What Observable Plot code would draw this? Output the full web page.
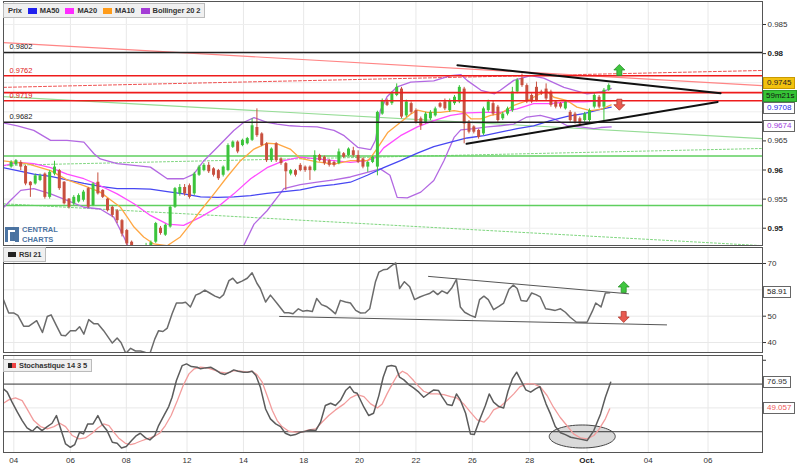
<!DOCTYPE html>
<html><head><meta charset="utf-8">
<script src="https://cdn.jsdelivr.net/npm/d3@7"></script>
<script src="https://cdn.jsdelivr.net/npm/@observablehq/plot@0.6"></script>
<style>
body{margin:0;background:#fff;font-family:"Liberation Sans",Arial,sans-serif;}
#wrap{position:relative;width:806px;height:467px;overflow:hidden;background:#fff;}
.box{position:absolute;box-sizing:border-box;font-size:8px;white-space:nowrap;}
.tab{position:absolute;box-sizing:border-box;background:#f0f0f0;border:1px solid #bbb;font-size:7.5px;font-weight:bold;color:#333;display:flex;align-items:center;padding:0 4px;white-space:nowrap;letter-spacing:-0.1px;}
.sw{display:inline-block;width:8px;height:5px;margin-right:3px;flex:none;}
</style></head><body><div id="wrap"></div><script>
// ---------- DATA ----------
const xTickPos = [0.56,12.3,23.9,36.5,48.2,60.7,72.3,84.0,95.7,107.6,119.5,132.2,144.6];
const xTickLabels = ["04","06","08","12","14","18","20","22","26","28","Oct.","04","06"];
const priceTicksNormal = [0.955,0.965,0.985];
const priceTicksBold = [0.95,0.96,0.98];
const priceTicksHidden = [0.97,0.975];
const rsiTicks = [40,50,70];
const rsiTicksHidden = [60];
// candles [open, close, high, low], 4-hour bars
const candles = [
[.9605,.9613,.9616,.9603],[.9609,.9616,.9618,.9607],[.9613,.9605,.9616,.9599],[.9606,.9576,.9608,.9573],
[.9579,.9573,.9580,.9553],[.9576,.9590,.9593,.9574],[.9582,.9590,.9593,.9580],[.9593,.9553,.9595,.9550],
[.9553,.9596,.9599,.9550],[.9593,.9605,.9615,.9590],[.9599,.9568,.9601,.9565],[.9579,.9542,.9580,.9540],
[.9550,.9536,.9551,.9533],[.9542,.9553,.9556,.9539],[.9545,.9556,.9559,.9543],[.9548,.9562,.9565,.9545],
[.9568,.9536,.9570,.9534],[.9539,.9576,.9578,.9537],[.9579,.9559,.9595,.9557],[.9565,.9553,.9566,.9551],
[.9550,.9530,.9551,.9528],[.9536,.9522,.9538,.9518],[.9530,.9513,.9532,.9508],[.9513,.9490,.9515,.9485],
[.9496,.9473,.9498,.9468],[.9476,.9459,.9478,.9452],[.9459,.9466,.9470,.9454],[.9465,.9459,.9468,.9455],
[.9461,.9470,.9474,.9457],[.9468,.9475,.9478,.9465],[.9476,.9508,.9510,.9474],[.9500,.9491,.9503,.9488],
[.9488,.9505,.9507,.9486],[.9502,.9536,.9538,.9500],[.9536,.9568,.9570,.9534],[.9559,.9570,.9575,.9555],
[.9570,.9559,.9575,.9555],[.9573,.9553,.9576,.9550],[.9559,.9593,.9596,.9556],[.9591,.9605,.9608,.9589],
[.9599,.9608,.9611,.9597],[.9608,.9597,.9613,.9594],[.9602,.9591,.9604,.9588],[.9599,.9585,.9601,.9582],
[.9591,.9605,.9607,.9588],[.9599,.9642,.9645,.9597],[.9639,.9648,.9650,.9637],[.9648,.9631,.9650,.9628],
[.9642,.9651,.9653,.9640],[.9645,.9654,.9656,.9643],[.9651,.9676,.9688,.9649],[.9673,.9659,.9705,.9656],
[.9662,.9642,.9664,.9640],[.9645,.9616,.9647,.9613],[.9616,.9636,.9638,.9613],[.9645,.9616,.9647,.9613],
[.9619,.9611,.9621,.9608],[.9611,.9597,.9613,.9565],[.9593,.9599,.9601,.9590],[.9599,.9591,.9601,.9588],
[.9608,.9599,.9611,.9597],[.9605,.9599,.9607,.9596],[.9605,.9599,.9607,.9582],[.9599,.9625,.9633,.9597],
[.9625,.9616,.9627,.9614],[.9622,.9611,.9624,.9608],[.9616,.9608,.9618,.9605],[.9613,.9608,.9615,.9605],
[.9611,.9631,.9636,.9609],[.9628,.9622,.9630,.9620],[.9625,.9636,.9638,.9623],[.9633,.9625,.9639,.9622],
[.9625,.9613,.9633,.9611],[.9619,.9605,.9621,.9602],[.9605,.9613,.9615,.9596],[.9613,.9622,.9624,.9611],
[.9605,.9699,.9701,.9590],[.9696,.9719,.9722,.9694],[.9717,.9711,.9722,.9709],[.9714,.9731,.9734,.9711],
[.9728,.9742,.9748,.9726],[.9739,.9691,.9742,.9688],[.9693,.9717,.9720,.9690],[.9714,.9699,.9717,.9696],
[.9702,.9682,.9705,.9679],[.9688,.9676,.9691,.9668],[.9682,.9696,.9699,.9679],[.9688,.9699,.9702,.9685],
[.9693,.9705,.9708,.9691],[.9714,.9708,.9716,.9706],[.9717,.9705,.9722,.9702],[.9702,.9719,.9722,.9699],
[.9714,.9725,.9728,.9711],[.9717,.9742,.9745,.9714],[.9739,.9679,.9742,.9645],[.9682,.9665,.9685,.9662],
[.9674,.9665,.9676,.9662],[.9668,.9656,.9670,.9653],[.9662,.9705,.9708,.9659],[.9702,.9717,.9720,.9699],
[.9714,.9696,.9719,.9693],[.9708,.9685,.9711,.9682],[.9688,.9696,.9699,.9685],[.9696,.9705,.9708,.9693],
[.9702,.9734,.9742,.9699],[.9734,.9754,.9757,.9731],[.9757,.9745,.9765,.9742],[.9745,.9717,.9748,.9714],
[.9728,.9717,.9731,.9714],[.9742,.9719,.9751,.9717],[.9734,.9731,.9737,.9728],[.9739,.9722,.9748,.9719],
[.9734,.9711,.9737,.9708],[.9717,.9708,.9719,.9705],[.9714,.9708,.9716,.9705],[.9705,.9717,.9719,.9703],
[.9699,.9685,.9702,.9682],[.9696,.9682,.9699,.9679],[.9688,.9679,.9691,.9676],[.9685,.9696,.9699,.9682],
[.9685,.9702,.9705,.9682],[.9708,.9728,.9731,.9705],[.9725,.9708,.9728,.9705],[.9708,.9737,.9740,.9685],
[.9737,.9745,.9748,.9735]
];
// indicator lines: [bar index, value]
const ma50 = [[-2.2,.9605],[1.3,.9599],[4.7,.9593],[8.2,.9589],[11.6,.9583],[15.1,.9577],[18.5,.9572],[22,.9568],[25.5,.9568],[28.9,.9567],[32.4,.9563],[35.8,.9559],[39.3,.9554],[42.8,.9553],[46.2,.9554],[49.7,.9556],[53.1,.9560],[56.6,.9563],[60,.9566],[63.5,.9572],[67,.9575],[70.4,.9579],[73.9,.9591],[77.3,.9604],[80.8,.9616],[84.3,.9629],[87.7,.9640],[91.2,.9648],[94.6,.9655],[98.1,.9659],[101.5,.9665],[105,.9671],[108.4,.9676],[111.9,.9685],[115.4,.9692],[118.8,.9697],[122.3,.9704],[124.5,.9708]];
const ma20 = [[-2.2,.9606],[1.3,.9613],[4.7,.9611],[8.2,.9604],[11.6,.9593],[15.1,.9585],[18.5,.9573],[22,.9559],[25.5,.9542],[28.9,.9522],[32.4,.9507],[35.8,.9505],[39.3,.9519],[42.8,.9536],[46.2,.9559],[49.7,.9585],[53.1,.9604],[56.6,.9616],[60,.9622],[63.5,.9619],[67,.9616],[70.4,.9613],[73.9,.9616],[75.8,.9622],[77.3,.9638],[80.8,.9659],[84.3,.9674],[87.7,.9685],[91.2,.9694],[94.6,.9698],[98.1,.9699],[101.5,.9699],[105,.9705],[108.4,.9714],[111.9,.9714],[115.4,.9717],[118.8,.9717],[122.3,.9719],[124.5,.9719]];
const ma10 = [[-2.2,.9616],[3.3,.9611],[8.2,.9599],[11.6,.9583],[15.1,.9573],[18.5,.9562],[20.6,.9549],[22.7,.9536],[24.1,.9519],[25.5,.9502],[27.5,.9485],[29.6,.9473],[32.4,.9470],[35.1,.9485],[37.2,.9507],[39.3,.9530],[42.1,.9559],[44.8,.9588],[47.6,.9616],[50.4,.9636],[53.1,.9646],[55.2,.9645],[57.9,.9636],[60,.9620],[63.5,.9614],[67,.9610],[70.4,.9616],[73.9,.9616],[74.7,.9622],[76.1,.9639],[78.2,.9665],[80.8,.9682],[82.9,.9696],[84.3,.9703],[86.4,.9699],[89.1,.9699],[91.9,.9702],[94,.9699],[95.4,.9688],[97.5,.9688],[99.5,.9694],[101.5,.9697],[104.3,.9711],[107,.9719],[109.8,.9731],[111.2,.9735],[112.6,.9725],[115.4,.9719],[117.4,.9708],[120.2,.9702],[122.3,.9704],[124.5,.9712]];
const bbUpper = [[-2.2,.9682],[1.3,.9676],[4.7,.9668],[8.2,.9651],[11.6,.9651],[15.1,.9648],[17.2,.9628],[18.5,.9619],[22,.9611],[25.5,.9608],[28.9,.9605],[32.4,.9585],[35.8,.9585],[37.9,.9593],[40,.9616],[42.8,.9639],[46.2,.9668],[48.3,.9682],[50.4,.9690],[53.1,.9682],[55.2,.9679],[57.9,.9676],[60,.9675],[63.5,.9674],[67,.9668],[69.1,.9659],[71.9,.9639],[74.6,.9635],[75.6,.9651],[76.6,.9702],[78,.9726],[80.1,.9743],[82.9,.9751],[87.7,.9753],[91.2,.9762],[93.3,.9764],[94.6,.9754],[97.5,.9737],[100.3,.9731],[101.5,.9737],[104.3,.9754],[107.8,.9762],[110.5,.9758],[114.7,.9742],[119.5,.9731],[122.3,.9734],[124.5,.9740]];
const bbLower = [[-2.2,.9530],[-0.1,.9548],[2,.9565],[4.7,.9568],[8.2,.9559],[11.6,.9548],[15.1,.9536],[18.5,.9533],[21.3,.9519],[23.4,.9485],[24.8,.9459],[26.5,.9430],[30,.9415],[36,.9415],[42,.9425],[46.2,.9450],[47.6,.9459],[50.4,.9507],[53.1,.9530],[56.6,.9568],[60,.9575],[63.5,.9579],[67,.9583],[70.4,.9588],[73.9,.9596],[76.6,.9602],[78.6,.9591],[80.1,.9553],[82.2,.9552],[85,.9562],[87.7,.9582],[89.8,.9616],[91.9,.9656],[93.3,.9669],[96.1,.9671],[98.8,.9674],[101.5,.9676],[104.3,.9679],[107,.9691],[109.8,.9694],[112.6,.9688],[115.4,.9676],[118.1,.9674],[120.9,.9671],[122.3,.9673],[124.5,.9674]];
// drawn levels and trend lines
const blackLevels = [0.9802, 0.9682];
const redLevels = [0.9762, 0.9733, 0.9719];
const greenLevels = [0.9624, 0.9539];
const labeledBlack = [0.9802, 0.9682];
const labeledRed = [0.9762, 0.9719];
const redTrend = [[-1.58,.9819],[155.9,.9745]];
const redDashTrend = [[-1.58,.9742],[155.9,.9771]];
const greenTrend = [[-1.58,.9726],[155.9,.9654]];
const greenDashUp = [[-1.58,.9608],[155.9,.9637]];
const greenDashDown = [[-1.58,.9542],[155.9,.9470]];
const triUpper = [[92.6,.9780],[147.2,.9732]];
const triLower = [[94.5,.9645],[146.6,.9717]];
const mainArrowUp = [[126.2,.9771]];
const mainArrowDown = [[126.2,.9713]];
// RSI 21
const rsi = [[-1.6,56.3],[-0.5,51.2],[0.6,51.2],[1.4,50.3],[2.6,46.2],[3.7,46.2],[5.3,48.3],[6.5,43.8],[7.5,49.9],[8.3,50.5],[9.4,46.4],[10.4,42.8],[11.3,42.6],[12.3,44.5],[13.4,44.5],[14.2,46.0],[15.1,43.2],[16.1,48.7],[17.2,47.1],[18.0,47.1],[19.2,44.5],[21.0,39.8],[22.0,41.7],[22.8,40.0],[23.8,35.9],[24.8,37.8],[25.8,36.8],[26.8,36.8],[27.9,36.2],[28.8,35.8],[29.8,41.3],[30.6,44.5],[31.5,44.2],[32.4,45.5],[33.4,50.9],[34.3,55.0],[35.5,55.0],[36.2,55.3],[37.2,53.5],[38.3,58.0],[39.1,58.6],[40.2,59.9],[41.2,58.8],[42.3,57.6],[43.3,56.9],[44.1,58.2],[45.2,63.5],[46.0,64.4],[46.9,62.5],[47.9,63.3],[49.0,64.4],[50.0,66.5],[51.0,62.5],[51.7,60.5],[52.8,55.4],[53.8,58.0],[55.2,54.8],[56.7,51.3],[57.6,51.3],[58.5,50.9],[59.6,52.8],[60.5,51.9],[61.4,52.2],[62.5,51.8],[63.4,56.7],[64.4,54.4],[65.4,53.7],[66.3,52.5],[67.3,50.9],[68.3,56.0],[69.4,55.4],[70.4,55.0],[71.5,52.2],[72.5,51.2],[73.5,51.3],[74.4,52.8],[75.6,63.1],[76.3,66.7],[77.2,67.6],[78.0,67.8],[78.9,69.1],[79.8,70.2],[80.6,60.5],[81.6,63.1],[82.7,61.2],[83.7,56.3],[84.8,57.3],[85.8,58.0],[86.8,58.6],[87.6,59.6],[88.5,58.2],[89.4,59.6],[90.5,58.6],[91.5,60.9],[92.4,64.0],[93.2,53.5],[94.1,51.5],[95.3,50.3],[96.3,49.6],[97.2,56.3],[98.1,57.6],[99.0,56.3],[100.1,52.5],[101.2,53.7],[102.2,55.0],[103.3,60.2],[104.2,61.8],[105.0,60.5],[105.8,56.0],[107.0,55.7],[108.0,58.8],[108.9,58.2],[109.8,57.3],[110.9,52.8],[111.9,52.5],[112.9,52.2],[114.0,52.8],[115.0,51.5],[116.0,49.6],[117.3,47.7],[118.5,47.7],[119.5,47.7],[120.6,51.9],[121.3,55.0],[122.4,53.5],[123.3,58.8],[124.2,58.9]];
const rsiUpperTrend = [[86.6,65.1],[128.1,58.5]];
const rsiLowerTrend = [[55.7,49.9],[136,46.7]];
const rsiArrowUp = [[127.1,60.9]];
const rsiArrowDown = [[127.1,49.9]];
// Stochastique 14 3 5
const stochK = [[-1.6,70.0],[-0.8,66.5],[0.2,56.0],[1.3,45.5],[2.3,36.7],[3.3,29.0],[4.4,25.5],[5.4,30.4],[6.4,26.2],[7.5,30.4],[8.5,33.9],[9.4,42.0],[10.4,26.2],[11.3,12.2],[12.3,8.7],[13.2,11.5],[14.2,24.5],[15.0,22.7],[15.9,33.2],[17.0,33.2],[18.0,42.0],[18.9,32.5],[19.9,26.2],[21.0,14.0],[22.0,12.9],[22.9,8.0],[23.9,9.4],[25.0,15.7],[26.0,21.0],[26.8,23.4],[27.9,18.5],[28.8,16.4],[29.8,21.0],[30.6,31.5],[31.7,42.0],[32.7,51.4],[33.4,61.2],[34.3,78.7],[35.5,94.4],[36.4,96.2],[37.4,93.4],[38.6,92.7],[39.3,91.0],[40.3,92.0],[41.4,92.7],[42.4,89.9],[43.4,86.4],[44.3,85.0],[45.4,87.5],[46.2,89.9],[47.1,88.5],[48.2,87.5],[49.1,87.5],[50.0,88.5],[50.8,84.0],[51.7,72.0],[52.8,48.9],[53.8,38.5],[54.9,33.2],[55.9,30.4],[56.9,23.4],[58.0,21.0],[59.0,22.0],[60.0,24.5],[61.1,25.5],[62.1,26.9],[63.2,26.2],[64.2,35.0],[65.2,52.5],[66.3,54.9],[67.3,52.5],[68.4,58.4],[69.4,68.2],[70.3,72.4],[71.1,66.5],[71.8,65.4],[73.2,50.7],[74.2,42.0],[75.2,44.4],[76.3,62.9],[77.2,82.2],[78.0,93.4],[78.9,94.4],[79.8,93.4],[80.6,82.2],[81.5,79.4],[82.5,74.5],[83.5,71.0],[84.6,66.5],[85.6,61.2],[86.7,65.4],[87.7,68.9],[88.7,68.2],[89.4,61.9],[90.5,53.5],[91.5,52.5],[92.4,64.7],[93.2,58.4],[94.3,44.4],[95.3,22.7],[96.1,22.0],[97.2,37.4],[98.4,52.5],[99.2,64.7],[100.1,56.0],[101.2,51.4],[102.2,50.0],[103.1,67.5],[104.0,80.4],[104.9,87.5],[105.8,78.7],[106.8,68.9],[107.8,66.5],[108.8,70.0],[109.7,72.4],[111.0,54.0],[111.9,43.7],[112.9,30.4],[114.0,24.0],[115.0,22.0],[116.1,19.2],[117.8,17.5],[119.5,15.7],[120.9,26.2],[122.3,43.7],[123.3,61.2],[124.4,76.95]];
const stochD = [[-1.6,54.9],[-0.5,58.4],[0.9,60.5],[2.3,57.7],[3.3,49.0],[4.7,36.7],[6.1,30.4],[7.5,28.0],[8.9,30.4],[10.1,33.9],[11.3,30.4],[12.7,21.0],[14.1,17.5],[15.4,18.5],[16.8,23.4],[18.0,29.0],[19.2,33.2],[20.3,31.5],[21.3,24.5],[22.3,18.5],[23.7,12.9],[24.8,11.5],[25.8,12.9],[26.8,15.0],[28.2,17.5],[29.6,19.9],[30.8,23.4],[32.0,31.5],[33.2,42.0],[34.5,57.7],[35.7,73.5],[36.9,85.7],[38.0,91.0],[39.3,92.7],[40.7,92.0],[42.0,89.9],[43.4,87.5],[44.8,86.4],[46.2,89.2],[47.6,88.5],[48.9,87.5],[50.0,88.5],[51.0,85.0],[52.1,77.0],[53.1,63.0],[54.2,47.2],[55.2,36.7],[56.2,30.4],[57.6,25.5],[59.0,24.5],[60.4,24.5],[61.7,26.9],[63.2,28.0],[64.5,35.0],[65.9,42.0],[67.3,47.9],[69.1,54.2],[70.4,60.5],[71.8,64.0],[73.2,61.9],[74.6,54.2],[76.0,50.0],[77.0,54.2],[78.0,64.7],[79.1,75.2],[80.1,84.0],[81.2,88.5],[82.2,85.7],[83.5,78.7],[84.6,72.4],[85.6,67.5],[87.0,64.7],[88.4,64.7],[89.8,64.0],[91.2,61.9],[92.5,60.5],[93.9,54.2],[95.3,45.5],[96.7,37.4],[98.1,35.0],[99.1,40.2],[100.1,47.9],[101.5,51.4],[102.9,57.7],[104.3,64.7],[105.6,72.4],[107.0,75.2],[108.4,75.2],[109.8,72.0],[111.2,63.0],[112.5,51.0],[113.9,40.2],[115.3,31.5],[116.7,22.7],[118.1,18.5],[119.5,17.5],[120.9,21.0],[121.9,26.9],[123.3,38.5],[124.2,49.057]];
const stochLevels = [75, 25];
const stochCircle = [[118.5, 20]];
// current values shown on the right
const lastClose = 0.9745, lastMA50 = 0.9708, lastBBLower = 0.9674;
const countdown = "59m21s";
const lastRSI = 58.91, lastK = 76.95, lastD = 49.057;

// ---------- DRAWING ----------
const X_DOMAIN = [-1.58, 155.9];
const FONT = "Liberation Sans, Arial, sans-serif";
const GREEN = "#3cc43c", RED = "#c8503f";
const wrap = document.getElementById("wrap");
const L = (data, opts) => Plot.line(data, {x: d => d[0], y: d => d[1], clip: true, ...opts});
const arrowUp = {draw(c){c.moveTo(0,-6);c.lineTo(5.5,-0.5);c.lineTo(2.5,-0.5);c.lineTo(2.5,5);c.lineTo(-2.5,5);c.lineTo(-2.5,-0.5);c.lineTo(-5.5,-0.5);c.closePath();}};
const arrowDown = {draw(c){c.moveTo(0,6);c.lineTo(5.5,0.5);c.lineTo(2.5,0.5);c.lineTo(2.5,-5);c.lineTo(-2.5,-5);c.lineTo(-2.5,0.5);c.lineTo(-5.5,0.5);c.closePath();}};
const ellipseSym = {draw(c){const rx=33,ry=11.5,k=0.5523;c.moveTo(rx,0);c.bezierCurveTo(rx,ry*k,rx*k,ry,0,ry);c.bezierCurveTo(-rx*k,ry,-rx,ry*k,-rx,0);c.bezierCurveTo(-rx,-ry*k,-rx*k,-ry,0,-ry);c.bezierCurveTo(rx*k,-ry,rx,-ry*k,rx,0);c.closePath();}};
const arrows = (up, down) => [
  Plot.dot(up, {x: d=>d[0], y: d=>d[1], symbol: arrowUp, fill: "#3fc63f", stroke: "#2a8f2a", strokeWidth: 0.8}),
  Plot.dot(down, {x: d=>d[0], y: d=>d[1], symbol: arrowDown, fill: "#e85a50", stroke: "#b03a30", strokeWidth: 0.8})
];

const rows = candles.map((d, i) => ({i, o: d[0], c: d[1], h: d[2], l: d[3]}));
const ups = rows.filter(d => d.c >= d.o), downs = rows.filter(d => d.c < d.o);
const candleMarks = [];
for (const [set, col] of [[ups, GREEN], [downs, RED]]) {
  candleMarks.push(Plot.ruleX(set, {x: "i", y1: "l", y2: "h", stroke: col, strokeWidth: 1, clip: true}));
  candleMarks.push(Plot.ruleX(set, {x: "i", y1: "o", y2: "c", stroke: col, strokeWidth: 3, clip: true}));
}
const axisOpts = {anchor: "right", tickSize: 3, tickPadding: 2, fontSize: 8, fill: "#333", stroke: "#333", tickFormat: d => String(d)};

const main = Plot.plot({
  width: 806, height: 246, marginLeft: 3, marginRight: 44, marginTop: 1, marginBottom: 1,
  x: {domain: X_DOMAIN, axis: null},
  y: {domain: [0.94703, 0.98895], axis: null},
  style: {fontFamily: FONT, fontSize: "8px", background: "transparent", overflow: "visible"},
  marks: [
    Plot.ruleX(xTickPos, {stroke: "#e8e8e8"}),
    Plot.ruleY([...priceTicksNormal, ...priceTicksBold, ...priceTicksHidden], {stroke: "#eeeeee"}),
    L(greenDashDown, {stroke: "#7fd67f", strokeDasharray: "2,2", strokeWidth: 1}),
    L(greenDashUp, {stroke: "#7fd67f", strokeDasharray: "2,2", strokeWidth: 1}),
    L(greenTrend, {stroke: "#95dc95", strokeWidth: 1.2}),
    L(redDashTrend, {stroke: "#f05050", strokeDasharray: "3,2", strokeWidth: 1}),
    L(redTrend, {stroke: "#ff8585", strokeWidth: 1.2}),
    Plot.ruleY(greenLevels, {stroke: "#5fcf5f", strokeWidth: 1.6}),
    L(bbUpper, {stroke: "#b369e2", strokeWidth: 1.3}),
    L(bbLower, {stroke: "#b369e2", strokeWidth: 1.3}),
    L(ma50, {stroke: "#4747f2", strokeWidth: 1.3}),
    L(ma20, {stroke: "#ff4cff", strokeWidth: 1.3}),
    L(ma10, {stroke: "#ffa743", strokeWidth: 1.3}),
    ...candleMarks,
    Plot.ruleY(redLevels, {stroke: "#ee1c1c", strokeWidth: 1.6}),
    Plot.ruleY(blackLevels, {stroke: "#222", strokeWidth: 1.6}),
    L(triUpper, {stroke: "#111", strokeWidth: 2}),
    L(triLower, {stroke: "#111", strokeWidth: 2}),
    ...arrows(mainArrowUp, mainArrowDown),
    Plot.text(labeledBlack, {y: d => d, text: d => d.toFixed(4), frameAnchor: "left", dx: 6, dy: -5.5, textAnchor: "start", fill: "#222", fontSize: 7.5}),
    Plot.text(labeledRed, {y: d => d, text: d => d.toFixed(4), frameAnchor: "left", dx: 6, dy: -5.5, textAnchor: "start", fill: "#e02020", fontSize: 7.5}),
    Plot.axisY(priceTicksNormal, axisOpts),
    Plot.axisY(priceTicksBold, {...axisOpts, fontWeight: "bold", fill: "#222"}),
    Plot.axisY(priceTicksHidden, {...axisOpts, tickFormat: () => ""}),
    Plot.frame({stroke: "#555"})
  ]
});

const rsiChart = Plot.plot({
  width: 806, height: 107, marginLeft: 3, marginRight: 44, marginTop: 1, marginBottom: 1,
  x: {domain: X_DOMAIN, axis: null},
  y: {domain: [36.22, 76.07], axis: null},
  style: {fontFamily: FONT, fontSize: "8px", background: "transparent", overflow: "visible"},
  marks: [
    Plot.ruleX(xTickPos, {stroke: "#e8e8e8"}),
    Plot.ruleY([40, 50, 60], {stroke: "#e8e8e8"}),
    Plot.ruleY([70], {stroke: "#333"}),
    L(rsiUpperTrend, {stroke: "#555", strokeWidth: 1}),
    L(rsiLowerTrend, {stroke: "#555", strokeWidth: 1}),
    L(rsi, {stroke: "#6b6b6b", strokeWidth: 1.5}),
    ...arrows(rsiArrowUp, rsiArrowDown),
    Plot.axisY(rsiTicks, axisOpts),
    Plot.axisY(rsiTicksHidden, {...axisOpts, tickFormat: () => ""}),
    Plot.frame({stroke: "#555"})
  ]
});

const normalPos = xTickPos.filter((d, i) => xTickLabels[i] !== "Oct.");
const octPos = xTickPos.filter((d, i) => xTickLabels[i] === "Oct.");
const labelOf = new Map(xTickPos.map((d, i) => [d, xTickLabels[i]]));
const stoch = Plot.plot({
  width: 806, height: 114, marginLeft: 3, marginRight: 44, marginTop: 2, marginBottom: 15,
  x: {domain: X_DOMAIN, axis: null},
  y: {domain: [3.2, 105], axis: null},
  style: {fontFamily: FONT, fontSize: "8px", background: "transparent", overflow: "visible"},
  marks: [
    Plot.ruleX(xTickPos, {stroke: "#e8e8e8"}),
    Plot.ruleY([50], {stroke: "#e8e8e8"}),
    Plot.dot(stochCircle, {x: d=>d[0], y: d=>d[1], symbol: ellipseSym, fill: "#d6d6d6", fillOpacity: 0.9, stroke: "#444", strokeWidth: 1}),
    Plot.ruleY(stochLevels, {stroke: "#333"}),
    L(stochD, {stroke: "#f29c9c", strokeWidth: 1.3}),
    L(stochK, {stroke: "#5c5c5c", strokeWidth: 1.5}),
    Plot.axisY([50, 100], {anchor: "right", tickSize: 3, stroke: "#333", tickFormat: () => ""}),
    Plot.axisX(normalPos, {tickSize: 0, tickPadding: 5, fontSize: 8, fill: "#333", tickFormat: d => labelOf.get(d)}),
    Plot.axisX(octPos, {tickSize: 0, tickPadding: 5, fontSize: 8, fontWeight: "bold", fill: "#222", tickFormat: d => labelOf.get(d)}),
    Plot.frame({stroke: "#555"})
  ]
});

function place(el, top) { el.style.position = "absolute"; el.style.left = "0px"; el.style.top = top + "px"; wrap.appendChild(el); }
place(main, 0); place(rsiChart, 246); place(stoch, 353);

function box(yc, text, css) {
  const d = document.createElement("div");
  d.className = "box"; d.textContent = text;
  Object.assign(d.style, {left: "763px", top: (yc - 6) + "px", height: "12px", lineHeight: "10px", padding: "0 3px", border: "1px solid #666", background: "#fff", color: "#222"}, css);
  wrap.appendChild(d); return d;
}
const my = main.scale("y"), ry = rsiChart.scale("y"), sy = stoch.scale("y");
const yClose = my.apply(lastClose);
box(yClose - 2, lastClose.toFixed(4), {background: "#f2c10f", borderColor: "#c99a00", color: "#222"});
box(yClose + 11, countdown, {background: "#36c436", borderColor: "#2a9a2a", color: "#111", padding: "0 2px"});
box(my.apply(lastMA50) + 1, lastMA50.toFixed(4), {color: "#2828e8"});
box(my.apply(lastBBLower), lastBBLower.toFixed(4), {color: "#a040e0"});
box(246 + ry.apply(lastRSI), lastRSI.toFixed(2), {color: "#222"});
box(353 + sy.apply(lastK), String(lastK), {color: "#333"});
box(353 + sy.apply(lastD), String(lastD), {color: "#ee5a5a"});

// legend bar
const leg = document.createElement("div");
leg.className = "tab";
Object.assign(leg.style, {left: "3px", top: "3px", height: "15px"});
const items = [["Prix", null], ["MA50", "#2020ee"], ["MA20", "#ff2cff"], ["MA10", "#ff9c1a"], ["Bollinger 20 2", "#a43cd6"]];
leg.innerHTML = items.map(([t, c]) => (c ? `<span class="sw" style="background:${c};width:9px;height:6px;margin-left:6px"></span>` : "") + `<span>${t}</span>`).join("");
wrap.appendChild(leg);

// panel tabs
const rsiTab = document.createElement("div"); rsiTab.className = "tab";
Object.assign(rsiTab.style, {left: "3px", top: "247px", height: "15px"});
rsiTab.innerHTML = `<span class="sw" style="background:#222"></span>RSI 21`;
wrap.appendChild(rsiTab);
const stTab = document.createElement("div"); stTab.className = "tab";
Object.assign(stTab.style, {left: "3px", top: "359px", height: "13px"});
stTab.innerHTML = `<span class="sw" style="background:linear-gradient(90deg,#222 50%,#ee4444 50%)"></span>Stochastique 14 3 5`;
wrap.appendChild(stTab);

// logo
const logo = document.createElement("div");
Object.assign(logo.style, {position: "absolute", left: "5px", top: "225px", height: "19px", display: "flex", alignItems: "center", opacity: "0.85"});
logo.innerHTML = `<div style="width:14px;height:15px;background:#2d5c92;position:relative;margin-right:3px;flex:none"><div style="position:absolute;left:3px;top:3px;width:5px;height:9px;border:2px solid #fff;border-right:none"></div></div><div style="font-weight:bold;font-size:7.5px;line-height:9.5px;color:#2d5c92;letter-spacing:0px">CENTRAL<br>CHARTS</div>`;
wrap.appendChild(logo);
</script></body></html>
